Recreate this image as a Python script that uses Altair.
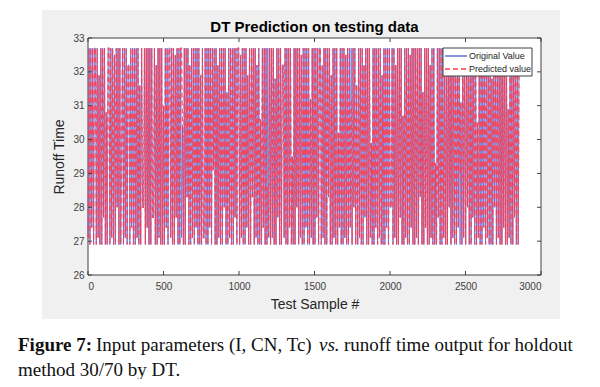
import altair as alt
import pandas as pd

# ---- data (Runoff Time, thinned test-sample series) ----
s1 = [27.1, 32.7, 26.9, 32.7, 27.4, 32.7, 26.9, 32.7, 32.7, 26.9,
      32.7, 27.1, 31.9, 26.9, 32.7, 26.9, 32.7, 27.7, 32.7, 26.9,
      30.8, 26.9, 32.7, 32.7, 26.9, 32.7, 27.1, 32.7, 26.9, 32.5,
      26.9, 32.7, 28.0, 32.7, 26.9, 32.7, 26.9, 29.8, 32.7, 26.9]
s2 = [32.7, 27.1, 32.7, 26.9, 32.2, 32.2, 26.9, 32.7, 27.4, 32.7,
      26.9, 32.7, 26.9, 32.7, 27.1, 32.7, 26.9, 31.6, 26.9, 32.7,
      28.0, 28.0, 32.7, 26.9, 32.7, 27.4, 32.7, 26.9, 32.7, 26.9,
      32.7, 27.7, 27.7, 32.7, 26.9, 32.2, 26.9, 32.7, 27.1, 32.7]
s3 = [26.9, 32.7, 26.9, 31.0, 26.9, 32.7, 27.4, 32.7, 26.9, 32.7,
      32.7, 27.1, 32.7, 26.9, 32.7, 26.9, 32.5, 27.7, 32.7, 26.9,
      32.7, 26.9, 32.7, 27.1, 30.4, 26.9, 32.7, 26.9, 32.7, 28.3,
      32.7, 26.9, 32.2, 26.9, 32.7, 27.1, 32.7, 26.9, 32.7, 27.4]
s4 = [32.7, 26.9, 32.7, 26.9, 31.9, 26.9, 32.7, 27.1, 27.1, 32.7,
      26.9, 32.7, 26.9, 32.7, 27.4, 32.7, 26.9, 32.7, 29.1, 32.7,
      26.9, 32.7, 26.9, 32.2, 27.1, 32.7, 26.9, 32.7, 26.9, 32.7,
      28.0, 32.7, 26.9, 31.4, 26.9, 32.7, 27.1, 32.7, 26.9, 32.7]
s5 = [26.9, 32.7, 27.7, 32.7, 26.9, 32.7, 32.7, 26.9, 32.5, 27.1,
      32.7, 26.9, 32.7, 26.9, 32.7, 27.4, 31.9, 26.9, 32.7, 26.9,
      32.7, 28.3, 32.7, 26.9, 32.7, 27.1, 32.2, 26.9, 32.7, 26.9,
      30.6, 26.9, 32.7, 27.4, 32.7, 26.9, 32.7, 26.9, 32.7, 27.1]
s6 = [32.7, 26.9, 32.7, 27.1, 32.7, 26.9, 31.8, 26.9, 32.7, 27.7,
      32.7, 26.9, 32.7, 26.9, 32.2, 32.2, 27.1, 32.7, 26.9, 32.7,
      26.9, 32.7, 27.4, 32.7, 26.9, 29.5, 26.9, 32.7, 26.9, 32.7,
      28.0, 32.7, 26.9, 32.7, 27.1, 32.5, 26.9, 32.7, 26.9, 32.7]
s7 = [27.4, 32.7, 26.9, 32.7, 26.9, 31.2, 27.1, 32.7, 26.9, 32.7,
      26.9, 32.7, 27.7, 32.7, 26.9, 32.7, 32.7, 26.9, 32.2, 27.1,
      32.7, 26.9, 32.7, 26.9, 32.7, 28.3, 32.7, 26.9, 31.9, 26.9,
      32.7, 27.1, 32.7, 26.9, 32.7, 26.9, 30.2, 27.4, 32.7, 26.9]
s8 = [32.7, 26.9, 32.7, 27.1, 32.5, 26.9, 32.7, 26.9, 32.7, 27.4,
      32.7, 26.9, 32.7, 28.0, 32.7, 26.9, 31.6, 26.9, 32.7, 27.1,
      32.7, 26.9, 32.7, 26.9, 32.2, 27.7, 32.7, 26.9, 32.7, 26.9,
      32.7, 27.1, 29.9, 26.9, 32.7, 26.9, 32.7, 27.4, 32.7, 26.9]
s9 = [32.7, 27.1, 32.7, 26.9, 31.9, 26.9, 32.7, 26.9, 32.7, 27.4,
      32.7, 26.9, 32.7, 28.0, 28.0, 32.7, 26.9, 32.7, 27.1, 32.2,
      26.9, 32.7, 26.9, 32.7, 27.7, 32.7, 26.9, 30.7, 26.9, 32.7,
      27.1, 32.7, 26.9, 32.7, 26.9, 32.5, 27.4, 32.7, 26.9, 32.7]
s10 = [26.9, 32.7, 27.1, 32.7, 26.9, 32.7, 28.3, 32.7, 26.9, 31.4,
       26.9, 32.7, 27.4, 32.7, 26.9, 32.7, 26.9, 32.2, 27.1, 32.7,
       26.9, 32.7, 26.9, 29.3, 26.9, 32.7, 27.7, 32.7, 26.9, 32.7,
       26.9, 32.7, 27.1, 31.9, 26.9, 32.7, 26.9, 32.7, 28.0, 32.7]
s11 = [26.9, 32.7, 27.1, 32.5, 26.9, 32.7, 26.9, 32.7, 27.4, 32.7,
       26.9, 31.1, 26.9, 32.7, 27.1, 32.7, 26.9, 32.7, 28.0, 32.7,
       26.9, 32.2, 26.9, 32.7, 27.7, 32.7, 26.9, 32.7, 26.9, 30.5,
       27.1, 32.7, 26.9, 32.7, 26.9, 32.7, 27.4, 32.7, 26.9, 32.7]
s12 = [27.1, 32.7, 26.9, 32.7, 26.9, 31.8, 26.9, 32.7, 28.0, 32.7,
       26.9, 32.7, 27.1, 32.2, 26.9, 32.7, 26.9, 32.7, 27.4, 32.7,
       26.9, 32.7, 26.9, 30.9, 27.1, 32.7, 26.9, 32.7, 26.9, 32.7,
       27.7, 32.7, 26.9, 32.7, 26.9, 32.7]

# predicted value differs from the original at a few samples (index, value)
pred_diff = [(37, 30.4), (103, 32.7), (198, 28.6), (290, 31.2), (410, 29.0)]

last_sample = 2855
x_ticks = [0, 500, 1000, 1500, 2000, 2500, 3000]
y_ticks = [26, 27, 28, 29, 30, 31, 32, 33]
series_names = ["Original Value", "Predicted value"]
series_colors = ["#5058d4", "#ff3d4b"]

original = s1 + s2 + s3 + s4 + s5 + s6 + s7 + s8 + s9 + s10 + s11 + s12
predicted = list(original)
for i, v in pred_diff:
    predicted[i] = v
n = len(original)
samples = [1 + round(i * (last_sample - 1) / (n - 1)) for i in range(n)]

df = pd.concat([
    pd.DataFrame({"Sample": samples, "Runoff": original, "Series": series_names[0]}),
    pd.DataFrame({"Sample": samples, "Runoff": predicted, "Series": series_names[1]}),
], ignore_index=True)

# ---- layout ----
W, H = 453, 237
one = pd.DataFrame({"k": [0]})

xs = alt.Scale(domain=[0, 3000], nice=False, zero=False)
ys = alt.Scale(domain=[26, 33], nice=False, zero=False)
xax = alt.Axis(values=x_ticks, title="Test Sample #", format="d", ticks=False,
               domain=False, grid=False, labelPadding=6, titlePadding=6, zindex=1)
yax = alt.Axis(values=y_ticks, title="Runoff Time", format="d", ticks=False,
               domain=False, grid=False, labelPadding=4, titlePadding=6, zindex=1)

figure_bg = alt.Chart(one).mark_rect(color="#f0f0f0").encode(
    x=alt.value(-46), x2=alt.value(472), y=alt.value(-28), y2=alt.value(281))
plot_bg = alt.Chart(one).mark_rect(fill="white", stroke="#404040", strokeWidth=1).encode(
    x=alt.value(0), x2=alt.value(W), y=alt.value(0), y2=alt.value(H))

lines = alt.Chart(df).mark_line(opacity=0.85).encode(
    x=alt.X("Sample:Q", scale=xs, axis=xax),
    y=alt.Y("Runoff:Q", scale=ys, axis=yax),
    color=alt.Color("Series:N", scale=alt.Scale(domain=series_names, range=series_colors),
                    legend=None),
    strokeDash=alt.StrokeDash("Series:N", scale=alt.Scale(domain=series_names,
                                                          range=[[1, 0], [5, 3]]), legend=None),
    strokeWidth=alt.StrokeWidth("Series:N", scale=alt.Scale(domain=series_names,
                                                            range=[0.9, 1.2]), legend=None),
)

xt = pd.DataFrame({"Sample": x_ticks})
yt = pd.DataFrame({"Runoff": y_ticks})
tick_style = dict(color="#404040", strokeWidth=1)
tb = alt.Chart(xt).mark_rule(**tick_style).encode(
    x=alt.X("Sample:Q", scale=xs, axis=xax), y=alt.value(H), y2=alt.value(H - 4))
tt = alt.Chart(xt).mark_rule(**tick_style).encode(
    x=alt.X("Sample:Q", scale=xs, axis=xax), y=alt.value(0), y2=alt.value(4))
tl = alt.Chart(yt).mark_rule(**tick_style).encode(
    y=alt.Y("Runoff:Q", scale=ys, axis=yax), x=alt.value(0), x2=alt.value(4))
tr = alt.Chart(yt).mark_rule(**tick_style).encode(
    y=alt.Y("Runoff:Q", scale=ys, axis=yax), x=alt.value(W), x2=alt.value(W - 4))

# legend box drawn as marks (MATLAB style)
leg_box = alt.Chart(one).mark_rect(fill="white", stroke="#404040", strokeWidth=1).encode(
    x=alt.value(355), x2=alt.value(444), y=alt.value(10), y2=alt.value(38))
leg_l1 = alt.Chart(one).mark_rule(color=series_colors[0], strokeWidth=1.3).encode(
    x=alt.value(357), x2=alt.value(379), y=alt.value(18))
leg_l2 = alt.Chart(one).mark_rule(color=series_colors[1], strokeWidth=1.3,
                                  strokeDash=[5, 3]).encode(
    x=alt.value(357), x2=alt.value(379), y=alt.value(31))
leg_font = dict(font="Liberation Sans", fontSize=9, align="left", baseline="middle",
                color="#262626")
leg_t1 = alt.Chart(one).mark_text(**leg_font).encode(
    x=alt.value(381), y=alt.value(18), text=alt.value(series_names[0]))
leg_t2 = alt.Chart(one).mark_text(**leg_font).encode(
    x=alt.value(381), y=alt.value(31), text=alt.value(series_names[1]))

title = alt.Chart(one).mark_text(font="Liberation Sans", fontSize=15, fontWeight="bold",
                                 align="center", baseline="alphabetic", color="black").encode(
    x=alt.value(W / 2), y=alt.value(-6), text=alt.value("DT Prediction on testing data"))

cap = dict(font="Liberation Serif", fontSize=19, align="left", baseline="alphabetic",
           color="#111111")
c1 = alt.Chart(one).mark_text(fontWeight="bold", **cap).encode(
    x=alt.value(-70), y=alt.value(313), text=alt.value("Figure 7:"))
c2 = alt.Chart(one).mark_text(**cap).encode(
    x=alt.value(8), y=alt.value(313), text=alt.value("Input parameters (I, CN, Tc)"))
c3 = alt.Chart(one).mark_text(fontStyle="italic", **cap).encode(
    x=alt.value(231), y=alt.value(313), text=alt.value("vs."))
c4 = alt.Chart(one).mark_text(**cap).encode(
    x=alt.value(256), y=alt.value(313), text=alt.value("runoff time output for holdout"))
c5 = alt.Chart(one).mark_text(**cap).encode(
    x=alt.value(-70), y=alt.value(338), text=alt.value("method 30/70 by DT."))

chart = alt.layer(
    figure_bg, plot_bg, lines, tb, tt, tl, tr,
    leg_box, leg_l1, leg_l2, leg_t1, leg_t2, title,
    c1, c2, c3, c4, c5
).properties(
    width=W, height=H,
    autosize=alt.AutoSizeParams(type="none"),
    padding={"left": 80, "top": 30, "right": 51, "bottom": 104},
).configure(
    background="white",
).configure_view(
    stroke=None,
).configure_axis(
    labelFont="Liberation Sans", labelFontSize=10, labelColor="#404040",
    titleFont="Liberation Sans", titleFontSize=14, titleFontWeight="normal",
    titleColor="#262626",
)

chart.save("out.html", embed_options={"renderer": "svg", "actions": False})
